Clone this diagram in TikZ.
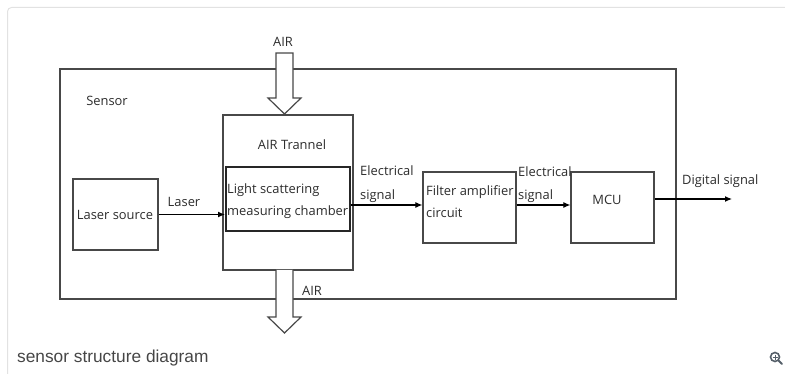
\documentclass[tikz,border=0pt]{standalone}
\usepackage{fontspec}
\setmainfont{Open Sans}
\newfontfamily\capfont{Liberation Sans}
\usepackage{tikz}
\usetikzlibrary{arrows.meta, positioning}
\definecolor{linegray}{RGB}{72,72,72}
\definecolor{textgray}{RGB}{45,45,45}
\definecolor{cardgray}{RGB}{226,226,226}
\definecolor{capgray}{RGB}{70,70,70}
\definecolor{icongray}{RGB}{85,95,105}

\begin{document}
\begin{tikzpicture}[x=1pt, y=-1pt,
    block/.style={rectangle, draw=linegray, line width=1.2pt, fill=white, inner sep=0pt},
    lbl/.style={text=textgray, font=\fontsize{12.9}{15}\selectfont, inner sep=0pt,
                text height=9.5pt, text depth=3pt},
    sig/.style={-{Latex[length=7pt,width=6pt]}, line width=1.1pt, black},
    airarrow/.style={draw=linegray, fill=white, line width=1.2pt}]
    \useasboundingbox (0,0) rectangle (785,374);
    % card frame
    \draw[cardgray, line width=1pt, rounded corners=4pt] (790,7.5) -- (7.5,7.5) -- (7.5,380);

    % boxes
    \node[block, minimum width=616pt, minimum height=230pt] (sensor) at (368,184) {};
    \node[block, minimum width=85pt, minimum height=71pt] (laser) at (115.5,214.5) {};
    \node[block, minimum width=130pt, minimum height=155pt] (trannel) at (288,192.5) {};
    \node[block, draw=black!85, line width=2pt, minimum width=124pt, minimum height=64pt] (chamber) at (288,199) {};
    \node[block, minimum width=93pt, minimum height=71pt] (filter) at (469.5,207.5) {};
    \node[block, minimum width=83pt, minimum height=71pt] (mcu) at (612.5,207.5) {};
    \coordinate (dout) at (732,199);

    % texts
    \node[lbl] (sensortxt) at (107,102) {Sensor};
    \node[lbl] (lasertxt) at (115,216) {Laser source};
    \node[lbl] (tranneltxt) at (292,146) {AIR Trannel};
    \node[lbl, anchor=west] (cham1) at (227,190) {Light scattering};
    \node[lbl, anchor=west] (cham2) at (227,212) {measuring chamber};
    \node[lbl, anchor=west] (filt1) at (426,192) {Filter amplifier};
    \node[lbl, anchor=west] (filt2) at (426,214) {circuit};
    \node[lbl] (mcutxt) at (607,201) {MCU};

    % signals
    \draw[sig] (laser.east) -- (laser.east -| chamber.west);
    \draw[sig] ([yshift=-6pt]chamber.east) -- ([yshift=-6pt]chamber.east -| filter.west);
    \draw[sig] ([yshift=2.5pt]filter.east) -- ([yshift=2.5pt]filter.east -| mcu.west);
    \draw[sig] ([yshift=8.5pt]mcu.east) -- (dout);
    \node[lbl] (laserlbl) at (184,203) {Laser};
    \node[lbl, anchor=west] (elec1a) at (360,172) {Electrical};
    \node[lbl, anchor=west] (elec1b) at (360,196) {signal};
    \node[lbl, anchor=west] (elec2a) at (518,173) {Electrical};
    \node[lbl, anchor=west] (elec2b) at (518,196) {signal};
    \node[lbl, anchor=west] (digital) at (682,181) {Digital signal};

    % air in / out
    \draw[airarrow] (276,53) -- (276,98) -- (268,98) -- (284.5,114) -- (301,98) -- (293,98) -- (293,53) -- cycle;
    \draw[airarrow] (276,270) -- (276,317) -- (268,317) -- (284.5,333) -- (301,317) -- (293,317) -- (293,270);
    \node[lbl] (airin) at (283,43) {AIR};
    \node[lbl] (airout) at (312,292) {AIR};

    % caption
    \node[anchor=west, inner sep=0pt, text=capgray, font=\capfont\fontsize{17.3}{19}\selectfont] (caption) at (17,358) {sensor structure diagram};
    \draw[icongray, line width=1.6pt] (775,357) circle (4.5pt);
    \draw[icongray, line width=2pt, line cap=round] (778.5,360.5) -- (782,364);
    \draw[icongray, line width=1pt] (772.5,357) -- (777.5,357) (775,354.5) -- (775,359.5);
\end{tikzpicture}
\end{document}
